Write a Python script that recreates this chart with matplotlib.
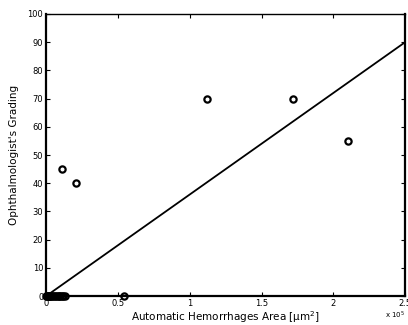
import numpy as np
import matplotlib.pyplot as plt

# automatic area (um^2) vs grading
area = [11000, 21000, 54000, 112000, 172000, 210000,
        0, 500, 1000, 1500, 2000, 2500, 3000, 4000, 5000, 6000,
        7000, 8000, 9000, 10000, 11000, 12000, 13000]
grade = [45, 40, 0, 70, 70, 55,
         0, 0, 0, 0, 0, 0, 0, 0, 0, 0,
         0, 0, 0, 0, 0, 0, 0]
fit_x = [0, 250000]
fit_y = [0, 90]

fig = plt.figure(figsize=(4.08, 3.25), dpi=100)
ax = fig.add_axes([0.113, 0.089, 0.88, 0.868])

ax.plot(fit_x, fit_y, color='black', lw=1.3)
ax.plot(area, grade, 'o', mfc='none', mec='black', mew=1.6, ms=4.5, clip_on=False)

ax.set_xlim(0, 250000)
ax.set_ylim(0, 100)
ax.set_xticks([0, 50000, 100000, 150000, 200000, 250000])
ax.set_xticklabels(['0', '0.5', '1', '1.5', '2', '2.5'])
ax.set_yticks(range(0, 101, 10))
ax.tick_params(direction='in', labelsize=6, length=3, pad=2, top=True, right=True)
for s in ['left', 'bottom', 'right']:
    ax.spines[s].set_linewidth(1.6)
ax.spines['top'].set_linewidth(1.0)

ax.text(0.973, -0.068, r'x 10$^5$', transform=ax.transAxes, fontsize=5, ha='center', va='center')
ax.set_xlabel(r'Automatic Hemorrhages Area [$\mathregular{\mu m^2}$]', fontsize=7.5, labelpad=1)
ax.set_ylabel("Ophthalmologist's Grading", fontsize=7.5, labelpad=6)

fig.savefig('out.png', dpi=100)
